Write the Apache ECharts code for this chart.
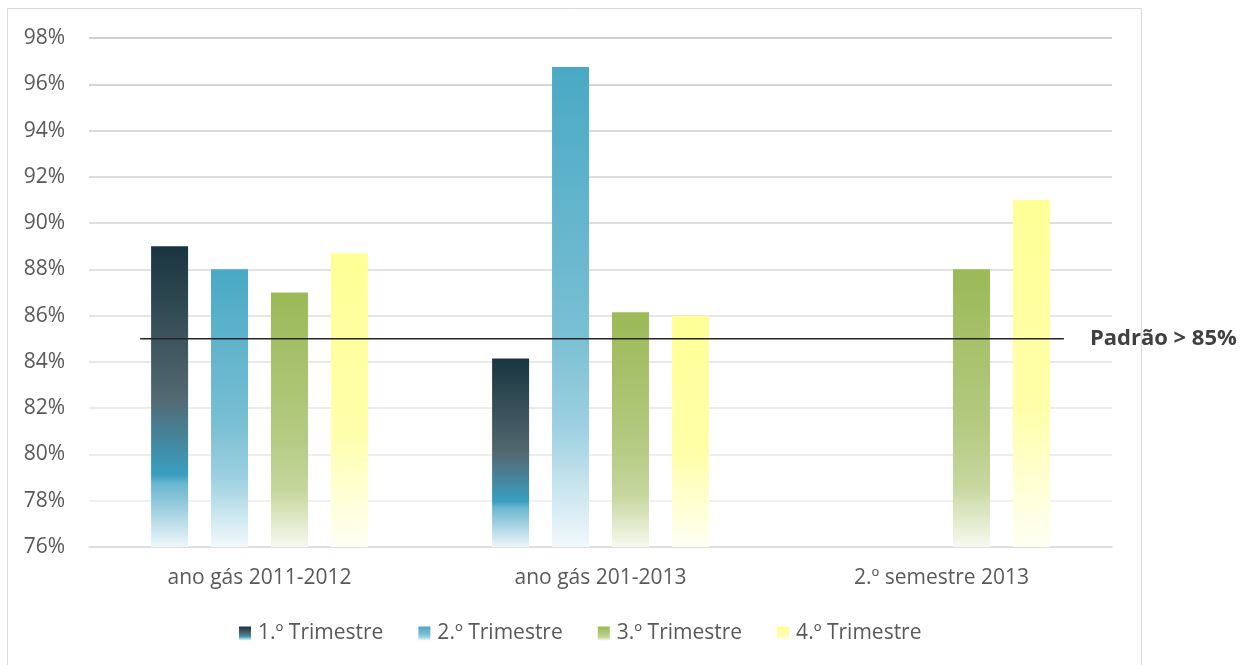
<!DOCTYPE html>
<html>
<head>
<meta charset="utf-8">
<script src="https://cdn.jsdelivr.net/npm/echarts@6/dist/echarts.min.js"></script>
<style>
  html, body { margin: 0; padding: 0; background: #fff; }
  #chart { width: 1256px; height: 665px; }
</style>
</head>
<body>
<div id="chart"></div>
<script>
// Periods on the category axis
const categories = ['ano gás 2011-2012', 'ano gás 201-2013', '2.º semestre 2013'];
// Quarterly values (%)
const seriesNames = ['1.º Trimestre', '2.º Trimestre', '3.º Trimestre', '4.º Trimestre'];
const q1 = [89.0, 84.15, null];
const q2 = [88.0, 96.75, null];
const q3 = [87.0, 86.15, 88.0];
const q4 = [88.7, 86.0, 91.0];
// Reference standard
const standardValue = 85;
const standardLabel = 'Padrão > 85%';
// Y axis range and step
const yMin = 76, yMax = 98, yStep = 2;

const FONT = '"Open Sans", "Liberation Sans", sans-serif';

function grad(stops) {
  return new echarts.graphic.LinearGradient(0, 0, 0, 1,
    stops.map(s => ({ offset: s[0], color: s[1] })));
}
const fills = [
  grad([[0, '#19353f'], [0.5, '#526870'], [0.76, '#3a9fc2'], [0.79, '#6ab6d0'], [1, '#eef6fa']]),
  grad([[0, '#49a9c5'], [0.55, '#78bfd3'], [0.75, '#9dd0e0'], [1, '#f2f9fc']]),
  grad([[0, '#9bb957'], [0.55, '#b3ca80'], [0.78, '#c6d79e'], [1, '#f7f9ef']]),
  grad([[0, '#ffff96'], [0.6, '#ffffaa'], [0.8, '#ffffd0'], [1, '#fffff4']])
];

const values = [q1, q2, q3, q4];

// Gridline colours from bottom (76%) to top (98%)
const gridColors = ['#ececec', '#ececec', '#e8e8e8', '#e6e6e6', '#e2e2e2', '#dedede',
  '#dadada', '#d6d6d6', '#d2d2d2', '#cecece', '#c8c8c8', '#c2c2c2'];

const series = values.map((v, i) => ({
  name: seriesNames[i],
  type: 'bar',
  data: v,
  barWidth: 37,
  barGap: '62%',
  itemStyle: { color: fills[i] },
  xAxisIndex: 0, yAxisIndex: 0
}));

// Standard line, drawn on a hidden 0..1 horizontal scale
series.push({
  name: 'padrao',
  type: 'line',
  xAxisIndex: 1, yAxisIndex: 0,
  data: [[0.05, standardValue], [0.953, standardValue]],
  symbol: 'none',
  lineStyle: { color: '#262626', width: 1.5 },
  silent: true,
  z: 5,
  endLabel: {
    show: true,
    formatter: standardLabel,
    color: '#404040',
    fontFamily: FONT,
    fontWeight: 'bold',
    fontSize: 22,
    distance: 26
  }
});

const chart = echarts.init(document.getElementById('chart'));
chart.setOption({
  animation: false,
  backgroundColor: '#fff',
  graphic: [{
    type: 'rect',
    shape: { x: 7.5, y: 8.5, width: 1134, height: 660 },
    style: { fill: 'none', stroke: '#d9d9d9', lineWidth: 1 },
    silent: true
  }],
  grid: { left: 89, right: 144, top: 38, bottom: 118 },
  legend: {
    data: seriesNames,
    top: 618,
    left: 234,
    itemWidth: 12,
    itemHeight: 14,
    itemGap: 35,
    icon: 'rect',
    textStyle: { color: '#595959', fontSize: 21, fontFamily: FONT, padding: [0, 0, 0, 2] }
  },
  xAxis: [{
    type: 'category',
    data: categories,
    axisLine: { lineStyle: { color: '#d9d9d9', width: 1.5 } },
    axisTick: { show: false },
    axisLabel: { color: '#595959', fontSize: 21, fontFamily: FONT, margin: 21 }
  }, {
    type: 'value', min: 0, max: 1, show: false
  }],
  yAxis: {
    type: 'value',
    min: yMin, max: yMax, interval: yStep,
    axisLine: { show: false },
    axisTick: { show: false },
    axisLabel: {
      formatter: '{value}%', color: '#595959', fontSize: 21, fontFamily: FONT, margin: 24
    },
    splitLine: { lineStyle: { color: gridColors, width: 1.5 } }
  },
  series
});
</script>
</body>
</html>
